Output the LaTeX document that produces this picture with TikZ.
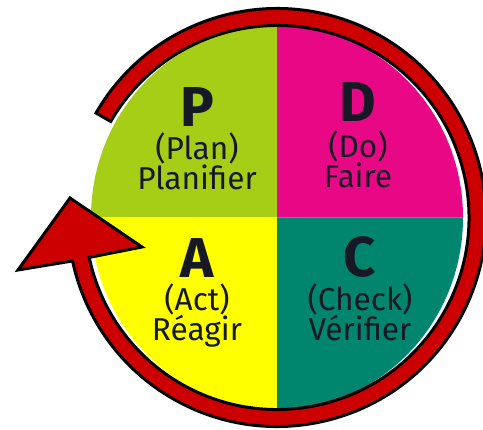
\documentclass[tikz,border=0pt]{standalone}
\usepackage{fontspec}
\setmainfont{Fira Sans}
\usetikzlibrary{%
	calc,%
	positioning,%
}
\definecolor{cplan}{RGB}{166, 206, 22}
\definecolor{cdo}{RGB}{232, 8, 134}
\definecolor{cact}{RGB}{255, 255, 0}
\definecolor{ccheck}{RGB}{0, 133, 110}
\definecolor{cring}{RGB}{204, 0, 0}
\definecolor{cink}{RGB}{22, 24, 38}
\tikzset{
	nodes={align=center},%
	letter/.style={%
			inner sep=0,%
			text=cink,%
			font={\fontsize{32}{32}\selectfont\bfseries}},%
	subtext/.style={%
			inner sep=0,%
			text=cink,%
			font={\fontsize{18}{18}\selectfont}},%
	ring/.style={%
			draw=black,%
			line width=1.7pt,%
			line join=miter,%
			fill=cring},%
}

\begin{document}
\begin{tikzpicture}[x=0.02cm, y=0.02cm]%
	\useasboundingbox (-277,-211.5) rectangle (206,217.5);

	% quadrants
	\fill[cplan] (0,0) -- (90:186 and 192) arc[start angle=90, end angle=180, x radius=186, y radius=192] -- cycle;
	\fill[cdo] (0,0) -- (0:186 and 192) arc[start angle=0, end angle=90, x radius=186, y radius=192] -- cycle;
	\fill[cact] (0,0) -- (180:186 and 192) arc[start angle=180, end angle=270, x radius=186, y radius=192] -- cycle;
	\fill[ccheck] (0,0) -- (270:186 and 192) arc[start angle=270, end angle=360, x radius=186, y radius=192] -- cycle;

	\node[letter] (p) at (-80,110.5) {P};
	\node[subtext] (planen) [below=3pt of p] {(Plan)};
	\node[subtext] (planfr) [below=0pt of planen] {Planifier};
	\node[letter] (d) at (81,115.5) {D};
	\node[subtext] (doen) [below=5pt of d] {(Do)};
	\node[subtext] (dofr) [below=0pt of doen] {Faire};
	\node[letter] (a) at (-80,-40.5) {A};
	\node[subtext] (acten) [below=3pt of a] {(Act)};
	\node[subtext] (actfr) [below=0pt of acten] {Réagir};
	\node[letter] (c) at (83,-39.5) {C};
	\node[subtext] (checken) [below=3pt of c] {(Check)};
	\node[subtext] (checkfr) [below=0pt of checken] {Vérifier};

	% arrow ring
	\draw[ring] (150:209) arc[start angle=150, end angle=-168, radius=209] -- (-259,-52.5) -- (-207,19.5) -- (-135,-29.5) -- (-168:192) arc[start angle=-168, end angle=150, radius=192] -- cycle;
\end{tikzpicture}
\end{document}
